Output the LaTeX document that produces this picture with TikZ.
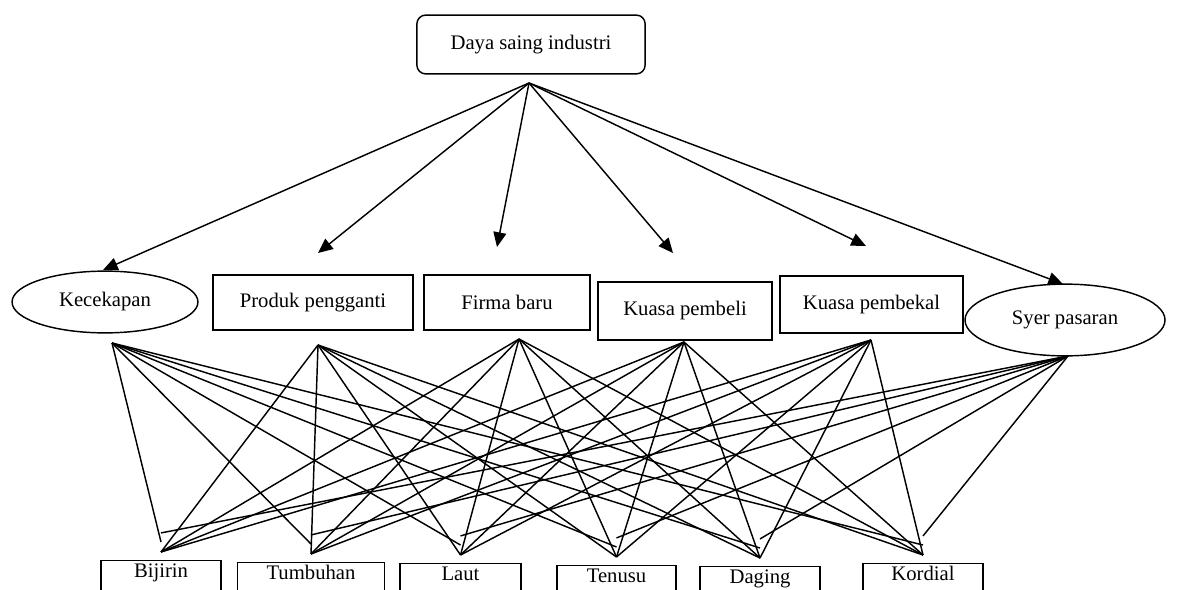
\documentclass[tikz,border=0pt]{standalone}
\usepackage{fontspec}
\setmainfont{Liberation Serif}
\usetikzlibrary{shapes.geometric,arrows.meta}

\tikzset{
  kotak/.style={draw,rectangle,inner sep=2pt},
  bujur/.style={draw,ellipse,inner sep=1pt},
  produk/.style={draw,rectangle,anchor=north,inner ysep=1pt,text height=0.25cm,text depth=0.4cm,minimum width=2.04cm},
  panah/.style={-{Triangle[length=0.25cm,width=0.22cm]}},
}

\begin{document}
\begin{tikzpicture}[x=0.017cm,y=-0.017cm,every path/.style={line width=0.7pt},
    font=\fontsize{10}{12}\selectfont]
  \useasboundingbox (0,0) rectangle (1179,589);

  % puncak
  \node[kotak,rounded corners=0.15cm,minimum width=3.88cm,minimum height=1cm] (daya) at (531,44.5) {Daya saing industri};
  \coordinate (daya-out) at (529,83);

  % faktor daya saing
  \node[bujur,minimum width=3.16cm,minimum height=1.05cm] (kec) at (105,302) {Kecekapan};
  \node[kotak,minimum width=3.4cm,minimum height=0.935cm] (prod) at (313,302.5) {Produk pengganti};
  \node[kotak,minimum width=2.82cm,minimum height=0.935cm] (firma) at (507,302.5) {Firma baru};
  \node[kotak,minimum width=2.96cm,minimum height=0.99cm] (beli) at (685,311) {Kuasa pembeli};
  \node[kotak,minimum width=3.11cm,minimum height=0.97cm] (bekal) at (871.5,304.5) {Kuasa pembekal};
  \node[bujur,minimum width=3.4cm,minimum height=1.22cm] (syer) at (1065,320) {Syer pasaran};

  % hujung anak panah
  \coordinate (kec-tip) at (103,270);
  \coordinate (prod-tip) at (318,253);
  \coordinate (firma-tip) at (497,247);
  \coordinate (beli-tip) at (673,253);
  \coordinate (bekal-tip) at (866,246);
  \coordinate (syer-tip) at (1063,284);

  % titik keluar
  \coordinate (kec-out) at (112,343);
  \coordinate (prod-out) at (318,345);
  \coordinate (firma-out) at (519,339);
  \coordinate (beli-out) at (684,342);
  \coordinate (bekal-out) at (871,340);
  \coordinate (syer-out) at (1068,356);

  % subsektor
  \node[produk] (bij) at (161,560) {Bijirin};
  \node[produk,minimum width=2.5cm] (tum) at (311,562) {Tumbuhan};
  \node[produk,minimum width=2.06cm] (laut) at (460.5,563) {Laut};
  \node[produk,minimum width=2.02cm] (ten) at (616.5,565) {Tenusu};
  \node[produk] (dag) at (760,566) {Daging};
  \node[produk] (kor) at (923,563) {Kordial};

  \foreach \b in {bij,tum,laut,ten,dag,kor}{
    \coordinate (\b-in) at ([yshift=0.136cm]\b.north);
    \coordinate (\b-in2) at ([yshift=0.306cm]\b.north);
    \coordinate (\b-in3) at ([yshift=0.46cm]\b.north);
  }

  \foreach \a in {kec,prod,firma,beli,bekal,syer}
    \draw[panah] (daya-out) -- (\a-tip);

  \foreach \a/\t in {kec/in2,prod/in,firma/in,beli/in,bekal/in,syer/in3}
    \foreach \b in {bij,tum,laut,ten,dag,kor}
      \draw (\a-out) -- (\b-\t);
\end{tikzpicture}
\end{document}
